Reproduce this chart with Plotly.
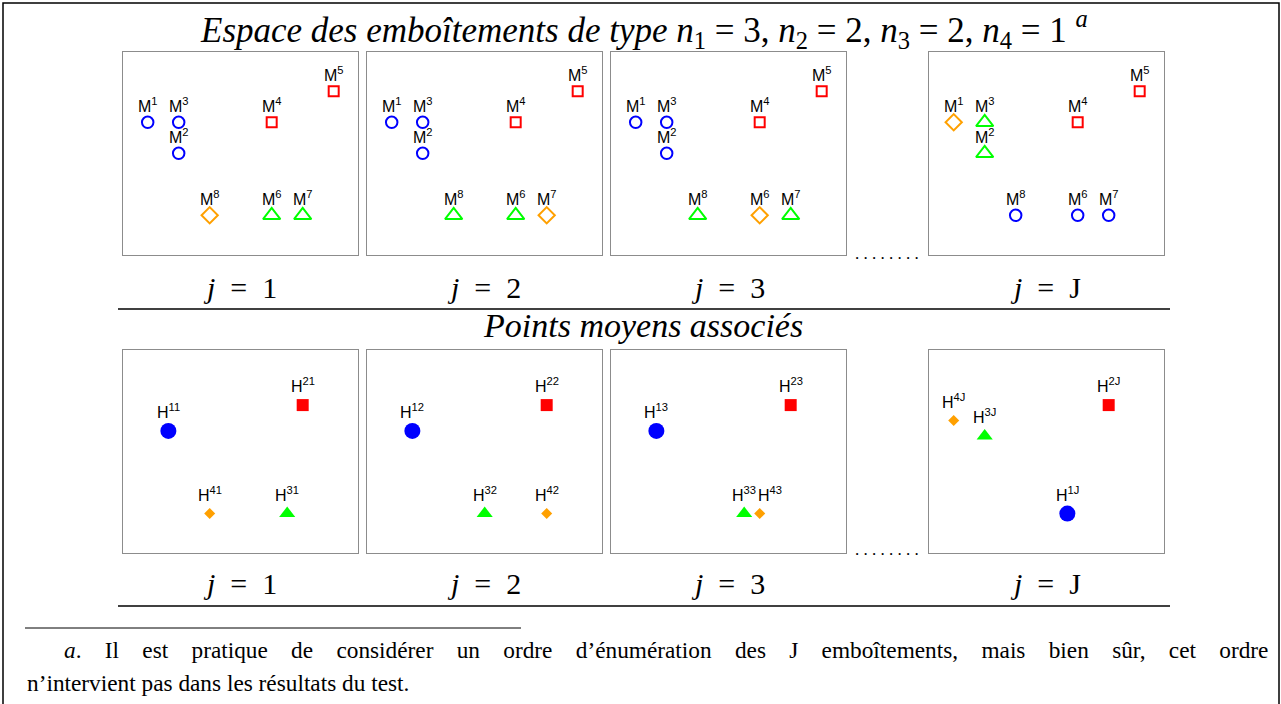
import plotly.graph_objects as go

# ---------------- data ----------------
point_names = ["1", "2", "3", "4", "5", "6", "7", "8"]
point_x = [1, 2, 2, 5, 7, 5, 6, 3]
point_y = [4, 3, 4, 4, 5, 1, 1, 1]

panel_names = ["1", "2", "3", "J"]
# class (1..4) of each point M1..M8 in each enumerated nesting j
class_j1 = [1, 1, 1, 2, 2, 3, 3, 4]
class_j2 = [1, 1, 1, 2, 2, 3, 4, 3]
class_j3 = [1, 1, 1, 2, 2, 4, 3, 3]
class_jJ = [4, 3, 3, 2, 2, 1, 1, 1]
classes_per_panel = [class_j1, class_j2, class_j3, class_jJ]

title_text = ("<i>Espace des emboîtements de type n</i><sub>1</sub> = 3, "
              "<i>n</i><sub>2</sub> = 2, <i>n</i><sub>3</sub> = 2, "
              "<i>n</i><sub>4</sub> = 1 <sup><i>a</i></sup>")
subtitle_text = "<i>Points moyens associés</i>"
foot1_words = ["<i>a</i>.", "Il", "est", "pratique", "de", "considérer", "un", "ordre",
               "d’énumération", "des", "J", "emboîtements,", "mais", "bien", "sûr,",
               "cet", "ordre"]
foot2 = "n’intervient pas dans les résultats du test."

# ---------------- style ----------------
W, H = 1281, 704
class_color = {1: "#0000ff", 2: "#ff0000", 3: "#00ff00", 4: "#ffa000"}
class_symbol = {1: "circle", 2: "square", 3: "triangle-up", 4: "diamond"}
open_size = {1: 11.5, 2: 10, 3: 15, 4: 12.5}
mean_size = {1: 16, 2: 12, 3: 14, 4: 8.5}
label_xshift = {("4", "3"): 10}

panel_left = [123.3, 367.3, 611.3, 929.3]
panel_w = 235.0
row_top = [51.7, 350.0]
panel_h = 203.3
label_y = [287, 583]
rule_y = [309, 606]
dots_y = [256, 552]
XR = [0.213, 7.794]
YR = [-0.281, 6.277]
frame_col = "#8c8c8c"

serif = "Liberation Serif"
sans = "Liberation Sans"
EM = "\u2003"
EN = "\u2002"

fig = go.Figure()
layout = dict(width=W, height=H, margin=dict(l=0, r=0, t=0, b=0),
              paper_bgcolor="white", plot_bgcolor="white", showlegend=False)
annotations = []
shapes = []

def px2x(px):
    return px / W

def py2y(py):
    return 1 - py / H

ax_i = 0
for row in range(2):
    for p in range(4):
        ax_i += 1
        sfx = "" if ax_i == 1 else str(ax_i)
        xa, ya = "x" + sfx, "y" + sfx
        common = dict(showgrid=False, zeroline=False, showticklabels=False,
                      ticks="", showline=True, mirror=True, linecolor=frame_col,
                      linewidth=1, fixedrange=True)
        layout["xaxis" + sfx] = dict(common, range=XR, anchor=ya,
                                      domain=[px2x(panel_left[p]), px2x(panel_left[p] + panel_w)])
        layout["yaxis" + sfx] = dict(common, range=YR, anchor=xa,
                                      domain=[py2y(row_top[row] + panel_h), py2y(row_top[row])])
        cls = classes_per_panel[p]
        if row == 0:
            for c in [1, 2, 3, 4]:
                idx = [i for i in range(8) if cls[i] == c]
                fig.add_trace(go.Scatter(
                    x=[point_x[i] for i in idx], y=[point_y[i] for i in idx],
                    mode="markers", xaxis=xa, yaxis=ya, cliponaxis=False,
                    marker=dict(symbol=class_symbol[c] + "-open", size=open_size[c],
                                color=class_color[c], line=dict(width=2, color=class_color[c]))))
            for i in range(8):
                annotations.append(dict(
                    x=point_x[i], y=point_y[i], xref=xa, yref=ya,
                    text="M<sup>" + point_names[i] + "</sup>", showarrow=False,
                    font=dict(family=sans, size=16, color="black"),
                    xanchor="center", yanchor="bottom", yshift=5))
        else:
            for c in [1, 2, 3, 4]:
                idx = [i for i in range(8) if cls[i] == c]
                mx = sum(point_x[i] for i in idx) / len(idx)
                my = sum(point_y[i] for i in idx) / len(idx)
                fig.add_trace(go.Scatter(
                    x=[mx], y=[my], mode="markers", xaxis=xa, yaxis=ya, cliponaxis=False,
                    marker=dict(symbol=class_symbol[c], size=mean_size[c],
                                color=class_color[c], line=dict(width=0))))
                annotations.append(dict(
                    x=mx, y=my, xref=xa, yref=ya,
                    text="H<sup>" + str(c) + panel_names[p] + "</sup>", showarrow=False,
                    font=dict(family=sans, size=16, color="black"),
                    xanchor="center", yanchor="bottom", yshift=8,
                    xshift=label_xshift.get((str(c), panel_names[p]), 0)))
        # j = ... label under the panel
        annotations.append(dict(
            x=px2x(panel_left[p] + panel_w / 2 - 1), y=py2y(label_y[row]),
            xref="paper", yref="paper", showarrow=False,
            text="<i>j</i>" + EN + "=" + EN + panel_names[p],
            font=dict(family=serif, size=30, color="black"),
            xanchor="center", yanchor="middle"))
    # dots between panel 3 and J
    annotations.append(dict(
        x=px2x(887), y=py2y(dots_y[row] - 3), xref="paper", yref="paper",
        showarrow=False, text=". . . . . . . .",
        font=dict(family=serif, size=17, color="black"),
        xanchor="center", yanchor="middle"))
    # horizontal rule under the row
    shapes.append(dict(type="line", xref="paper", yref="paper",
                       x0=px2x(118), x1=px2x(1170),
                       y0=py2y(rule_y[row]), y1=py2y(rule_y[row]),
                       line=dict(color="black", width=1.3)))

annotations.append(dict(x=px2x(644), y=py2y(30), xref="paper", yref="paper",
                        showarrow=False, text=title_text,
                        font=dict(family=serif, size=35, color="black"),
                        xanchor="center", yanchor="middle"))
annotations.append(dict(x=px2x(643), y=py2y(325), xref="paper", yref="paper",
                        showarrow=False, text=subtitle_text,
                        font=dict(family=serif, size=34, color="black"),
                        xanchor="center", yanchor="middle"))
annotations.append(dict(x=px2x(62), y=py2y(650), xref="paper", yref="paper",
                        showarrow=False, text=EM.join(foot1_words),
                        font=dict(family=serif, size=23.3, color="black"),
                        xanchor="left", yanchor="middle"))
annotations.append(dict(x=px2x(25), y=py2y(683), xref="paper", yref="paper",
                        showarrow=False, text=foot2,
                        font=dict(family=serif, size=23.3, color="black"),
                        xanchor="left", yanchor="middle"))

# footnote rule
shapes.append(dict(type="line", xref="paper", yref="paper",
                   x0=px2x(25), x1=px2x(521), y0=py2y(628), y1=py2y(628),
                   line=dict(color="black", width=1)))
# outer frame (open at the bottom)
shapes.append(dict(type="path", xref="paper", yref="paper",
                   path="M %f,%f L %f,%f L %f,%f L %f,%f" % (
                       px2x(3), py2y(710), px2x(3), py2y(3),
                       px2x(1279), py2y(3), px2x(1279), py2y(710)),
                   line=dict(color="black", width=1.5)))

layout["annotations"] = annotations
layout["shapes"] = shapes
fig.update_layout(**layout)
fig.write_html("out.html", config={"displayModeBar": False},
               post_script="document.body.style.margin='0';"
                           "document.body.style.overflow='hidden';")
